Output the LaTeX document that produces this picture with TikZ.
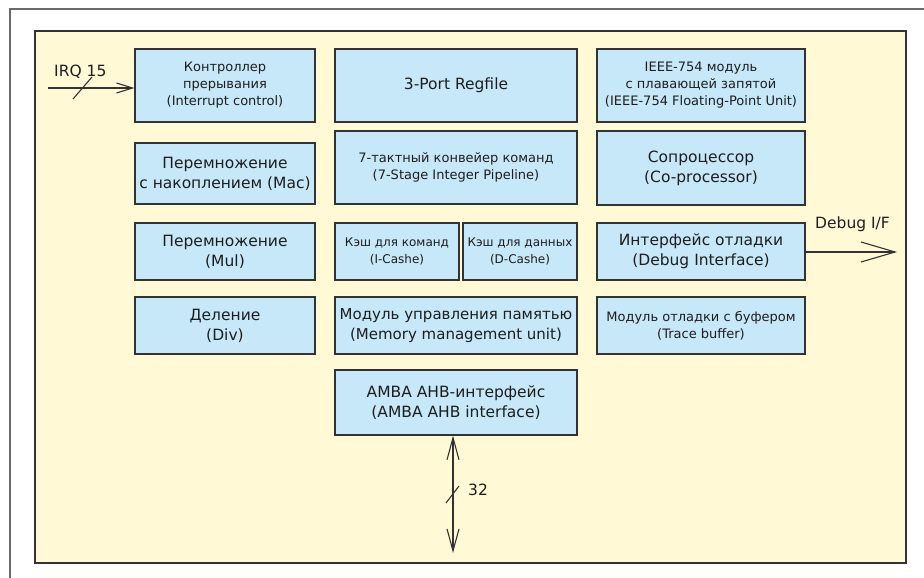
\documentclass[tikz,border=0pt]{standalone}
\usepackage{fontspec}
\setmainfont{DejaVu Sans}
\usetikzlibrary{arrows.meta}
\definecolor{boxfill}{HTML}{C6E8F8}
\definecolor{bgfill}{HTML}{FFF9D6}
\definecolor{edge}{HTML}{333333}
\definecolor{frame}{HTML}{6A6A6A}
\definecolor{txt}{HTML}{1E1E1E}
\tikzset{
  blk/.style={draw=edge, line width=1.3pt, fill=boxfill, align=center, text=txt, inner sep=1pt},
  big/.style={font=\fontsize{15.5}{20}\selectfont},
  mid/.style={font=\fontsize{15}{20}\selectfont},
  small/.style={font=\fontsize{13}{17}\selectfont},
  tiny/.style={font=\fontsize{12}{17}\selectfont},
  wire/.style={draw=edge, line width=1.1pt},
  lbl/.style={text=txt, inner sep=0pt}
}
\begin{document}
\begin{tikzpicture}[x=1pt,y=-1pt]
\useasboundingbox (0,0) rectangle (924,578);
% outer frame (top and left only)
\draw[frame, line width=2pt] (924,9) -- (10,9) -- (10,578);
% yellow area
\draw[draw=edge, line width=1.5pt, fill=bgfill] (35,31) rectangle (906,563);
% column 1
\node[blk, small, minimum width=180, minimum height=73] (intc) at (225,85.5) {Контроллер\\прерывания\\(Interrupt control)};
\node[blk, big, minimum width=180, minimum height=61] (mac) at (225,173.5) {Перемножение\\с накоплением (Mac)};
\node[blk, big, minimum width=180, minimum height=57] (mul) at (225,251.5) {Перемножение\\(Mul)};
\node[blk, big, minimum width=180, minimum height=57] (div) at (225,325.5) {Деление\\(Div)};
% column 2
\node[blk, big, minimum width=242, minimum height=73] (reg) at (456,85.5) {3-Port Regfile};
\node[blk, small, minimum width=242, minimum height=73] (pipe) at (456,167.5) {7-тактный конвейер команд\\(7-Stage Integer Pipeline)};
\node[blk, tiny, minimum width=124, minimum height=57] (icache) at (397,251.5) {Кэш для команд\\(I-Cashe)};
\node[blk, tiny, minimum width=114, minimum height=57] (dcache) at (520,251.5) {Кэш для данных\\(D-Cashe)};
\node[blk, mid, minimum width=242, minimum height=57] (mmu) at (456,325.5) {Модуль управления памятью\\(Memory management unit)};
\node[blk, big, minimum width=242, minimum height=65] (amba) at (456,402.5) {AMBA AHB-интерфейс\\(AMBA AHB interface)};
% column 3
\node[blk, small, minimum width=208, minimum height=73] (fpu) at (701,85.5) {IEEE-754 модуль\\с плавающей запятой\\(IEEE-754 Floating-Point Unit)};
\node[blk, big, minimum width=208, minimum height=74] (cop) at (701,168) {Сопроцессор\\(Co-processor)};
\node[blk, big, minimum width=208, minimum height=57] (dbg) at (701,251.5) {Интерфейс отладки\\(Debug Interface)};
\node[blk, small, minimum width=208, minimum height=57] (trace) at (701,325.5) {Модуль отладки с буфером\\(Trace buffer)};
% IRQ input
\coordinate (irqin) at (48,88);
\draw[wire, -{Straight Barb[length=16pt,width=10pt,line width=1.1pt]}] (irqin) -- (irqin -| intc.west);
\coordinate (irqs1) at (73,99);
\coordinate (irqs2) at (92,77);
\draw[wire] (irqs1) -- (irqs2);
\node[lbl, big, anchor=west] (irql) at (54,72) {IRQ 15};
% Debug output
\coordinate (dbgout) at (897,252);
\draw[wire, -{Straight Barb[length=34pt,width=20pt,line width=1.1pt]}] (dbgout -| dbg.east) -- (dbgout);
\node[lbl, big, anchor=west] (dbgl) at (815,224) {Debug I/F};
% AMBA bus
\coordinate (busend) at (453,553);
\draw[wire, {Straight Barb[length=22pt,width=12pt,line width=1.1pt]}-{Straight Barb[length=22pt,width=12pt,line width=1.1pt]}] (busend |- amba.south) -- (busend);
\coordinate (buss1) at (446,503);
\coordinate (buss2) at (459,486);
\draw[wire] (buss1) -- (buss2);
\node[lbl, big, anchor=west] (busl) at (468,490) {32};
\end{tikzpicture}
\end{document}
